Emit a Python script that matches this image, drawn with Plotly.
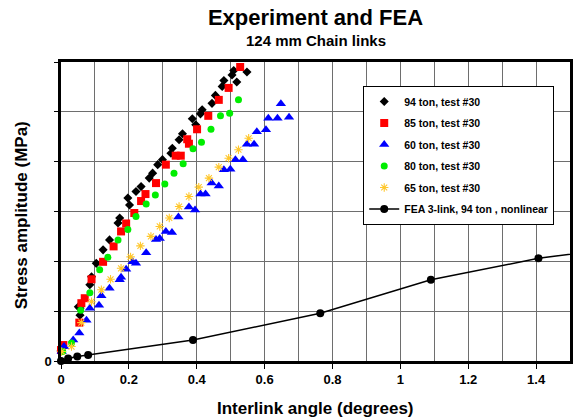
import plotly.graph_objects as go

# ---------------- data ----------------
x_94 = [0.548, 0.518, 0.509, 0.504, 0.480, 0.475, 0.455, 0.445, 0.416, 0.411, 0.387, 0.397,
        0.358, 0.348, 0.328, 0.324, 0.299, 0.285, 0.270, 0.260, 0.236, 0.221, 0.197, 0.202,
        0.173, 0.168, 0.143, 0.124, 0.104, 0.090, 0.085, 0.056, 0.051, 0.056, 0.000]
y_94 = [5.80, 5.60, 5.83, 5.74, 5.63, 5.51, 5.33, 5.17, 5.04, 4.96, 4.86, 4.74,
        4.56, 4.44, 4.27, 4.17, 4.04, 3.94, 3.77, 3.67, 3.50, 3.40, 3.27, 3.13,
        2.87, 2.77, 2.43, 2.23, 1.96, 1.69, 1.53, 1.06, 1.09, 0.92, 0.20]

x_85 = [0.528, 0.494, 0.465, 0.434, 0.401, 0.372, 0.377, 0.338, 0.353, 0.309, 0.280, 0.249,
        0.236, 0.216, 0.192, 0.177, 0.155, 0.124, 0.090, 0.070, 0.060, 0.054, 0.007, 0.000]
y_85 = [5.90, 5.48, 5.24, 4.92, 4.65, 4.45, 4.36, 4.12, 4.12, 3.94, 3.57, 3.35,
        3.21, 2.97, 2.76, 2.60, 2.30, 1.99, 1.64, 1.26, 1.16, 0.77, 0.32, 0.22]

x_60 = [0.648, 0.611, 0.638, 0.672, 0.577, 0.604, 0.548, 0.569, 0.514, 0.536, 0.480, 0.499,
        0.444, 0.465, 0.411, 0.426, 0.377, 0.395, 0.346, 0.309, 0.327, 0.280, 0.291, 0.251,
        0.221, 0.211, 0.192, 0.177, 0.173, 0.143, 0.119, 0.112, 0.085, 0.075, 0.054, 0.036,
        0.009, 0.002]
y_60 = [5.16, 4.87, 4.87, 4.89, 4.60, 4.64, 4.35, 4.35, 4.04, 4.04, 3.84, 3.85,
        3.57, 3.51, 3.35, 3.35, 3.09, 3.03, 2.89, 2.60, 2.58, 2.44, 2.46, 2.17,
        1.96, 1.99, 1.84, 1.68, 1.63, 1.46, 1.31, 1.12, 1.06, 0.82, 0.56, 0.42,
        0.29, 0.19]

x_80 = [0.523, 0.497, 0.470, 0.442, 0.414, 0.389, 0.360, 0.333, 0.306, 0.278, 0.251, 0.221,
        0.197, 0.168, 0.138, 0.114, 0.085, 0.058, 0.031, 0.005]
y_80 = [5.24, 4.97, 4.92, 4.65, 4.39, 4.26, 3.96, 3.77, 3.55, 3.33, 3.15, 2.90,
        2.64, 2.43, 2.08, 1.83, 1.37, 1.02, 0.36, 0.19]

x_65 = [0.553, 0.523, 0.494, 0.465, 0.436, 0.406, 0.377, 0.348, 0.319, 0.291, 0.265, 0.234,
        0.205, 0.177, 0.146, 0.119, 0.090, 0.060, 0.031, 0.002]
y_65 = [4.47, 4.24, 4.07, 3.89, 3.67, 3.49, 3.30, 3.10, 2.87, 2.70, 2.50, 2.31,
        2.09, 1.86, 1.64, 1.43, 1.19, 0.77, 0.29, 0.19]

x_fea = [0.0, 0.021, 0.048, 0.080, 0.389, 0.764, 1.090, 1.407, 1.720]
y_fea = [0.0, 0.05, 0.09, 0.12, 0.42, 0.96, 1.63, 2.06, 2.34]

names = ["94 ton, test #30", "85 ton, test #30", "60 ton, test #30",
         "80 ton, test #30", "65 ton, test #30", "FEA 3-link, 94 ton , nonlinear"]

x_tick_vals = [0, 0.2, 0.4, 0.6, 0.8, 1, 1.2, 1.4]
x_tick_text = ["0", "0.2", "0.4", "0.6", "0.8", "1", "1.2", "1.4"]
y_tick_vals = [0, 1, 2, 3, 4, 5, 6]
y_tick_text = ["0", "", "", "", "", "", ""]

FONT = "Arial, Liberation Sans, sans-serif"

fig = go.Figure()

series = [
    (x_94, y_94, names[0], dict(symbol="diamond", size=7, color="#000000")),
    (x_85, y_85, names[1], dict(symbol="square", size=8, color="#FF0000")),
    (x_60, y_60, names[2], dict(symbol="triangle-up", size=9, color="#0000FF")),
    (x_80, y_80, names[3], dict(symbol="circle", size=7, color="#00EE00")),
    (x_65, y_65, names[4], dict(symbol="asterisk-open", size=7, color="#FFC72C",
                                line=dict(color="#FFC72C", width=1.1))),
]
for i, (xs, ys, nm, mk) in enumerate(series):
    fig.add_trace(go.Scatter(x=xs, y=ys, mode="markers", name=nm, marker=mk,
                             cliponaxis=False, legendgroup=f"g{i}"))

fig.add_trace(go.Scatter(x=x_fea, y=y_fea, mode="lines+markers", name=names[5],
                         line=dict(color="#000000", width=1.5),
                         marker=dict(symbol="circle", size=8, color="#000000"),
                         cliponaxis=False, legendgroup="g5"))

fig.update_layout(
    width=573, height=420,
    margin=dict(l=61, r=0, t=62, b=59),
    paper_bgcolor="white", plot_bgcolor="white",
    font=dict(family=FONT, color="#000000"),
    title=dict(text="Experiment and FEA", x=0.5, xref="paper", xanchor="center",
               y=1 - 17 / 420, yref="container", yanchor="middle",
               font=dict(size=22, weight="bold", family=FONT, color="#000")),
    showlegend=True,
    legend=dict(x=(365 - 61) / 512, y=(361 - 86) / 299, xanchor="left", yanchor="top",
                bgcolor="white", bordercolor="#000000", borderwidth=1,
                font=dict(size=10.5, weight="bold", family=FONT),
                traceorder="grouped", tracegroupgap=2.5, itemwidth=30),
    annotations=[
        dict(text="124 mm Chain links", x=0.5, y=(361 - 40) / 299, xref="paper", yref="paper",
             showarrow=False, xanchor="center", yanchor="middle",
             font=dict(size=15, weight="bold", family=FONT)),
        dict(text="Interlink angle (degrees)", x=0.5, y=(361 - 408) / 299, xref="paper",
             yref="paper", showarrow=False, xanchor="center", yanchor="middle",
             font=dict(size=17, weight="bold", family=FONT)),
        dict(text="Stress amplitude (MPa)", x=(21 - 61) / 512, y=(361 - 215) / 299,
             xref="paper", yref="paper", showarrow=False, textangle=-90,
             xanchor="center", yanchor="middle",
             font=dict(size=17, weight="bold", family=FONT)),
    ],
)

fig.update_xaxes(
    range=[0, 1.5], tickvals=x_tick_vals, ticktext=x_tick_text,
    ticks="outside", ticklen=5, tickwidth=1, tickcolor="#000",
    tickfont=dict(size=13, weight="bold", family=FONT),
    showgrid=True, gridcolor="#6e6e6e", gridwidth=1,
    minor=dict(dtick=0.1, tick0=0, showgrid=True, gridcolor="#6e6e6e", gridwidth=1, ticks=""),
    showline=True, linecolor="#000", linewidth=2.5, mirror=True, zeroline=False,
    fixedrange=True,
)
fig.update_yaxes(
    range=[0, 6], tickvals=y_tick_vals, ticktext=y_tick_text,
    ticks="outside", ticklen=4, tickwidth=1, tickcolor="#000",
    tickfont=dict(size=13, weight="bold", family=FONT),
    showgrid=True, gridcolor="#6e6e6e", gridwidth=1,
    showline=True, linecolor="#000", linewidth=2.5, mirror=True, zeroline=False,
    fixedrange=True,
)

fig.write_html("out.html")
